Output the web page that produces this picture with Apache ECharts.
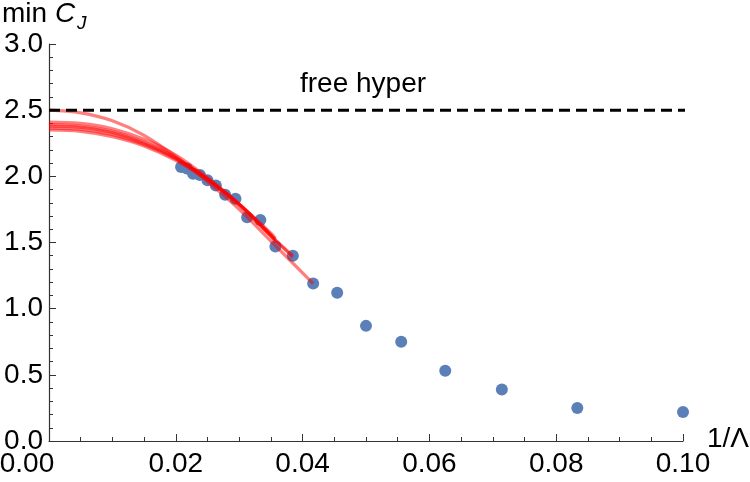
<!DOCTYPE html>
<html>
<head>
<meta charset="utf-8">
<script src="https://cdn.jsdelivr.net/npm/echarts@6/dist/echarts.min.js"></script>
<style>
html,body{margin:0;padding:0;background:#fff;}
#chart{width:750px;height:482px;}
</style>
</head>
<body>
<div id="chart"></div>
<script>
// ---- data ----
var lambdaVals = [48, 46, 44, 42, 40, 38, 36, 34, 32, 30, 28, 26, 24, 22, 20, 18, 16, 14, 12, 10];
var minCJ = [2.07, 2.06, 2.02, 2.01, 1.97, 1.93, 1.86, 1.83, 1.69, 1.67, 1.47, 1.40, 1.19, 1.12, 0.87, 0.75, 0.53, 0.39, 0.25, 0.22];

var freeHyper = 2.5;
var freeHyperEnd = 0.101;

// fit curves (x = 1/Lambda, y = min C_J)
var fitAx = [0, 0.005, 0.01, 0.015, 0.02, 0.025, 0.03, 0.035, 0.04167];
var fitAy = [2.50, 2.48, 2.42, 2.31, 2.15, 1.96, 1.75, 1.51, 1.19];
var fitBx = [0, 0.005, 0.01, 0.015, 0.02, 0.025, 0.03, 0.035, 0.03846];
var fitB1y = [2.41, 2.40, 2.36, 2.28, 2.16, 1.99, 1.79, 1.55, 1.39];
var fitB5y = [2.39, 2.38, 2.34, 2.26, 2.14, 1.98, 1.78, 1.55, 1.40];
var fitCx = [0, 0.005, 0.01, 0.015, 0.02, 0.025, 0.03, 0.035, 0.0357];
var fitB2y = [2.38, 2.37, 2.33, 2.25, 2.14, 1.98, 1.79, 1.55, 1.50];
var fitB3y = [2.365, 2.355, 2.315, 2.24, 2.13, 1.98, 1.79, 1.56, 1.52];
var fitB4y = [2.35, 2.34, 2.30, 2.23, 2.12, 1.97, 1.79, 1.57, 1.53];

var xTicks = [0, 0.02, 0.04, 0.06, 0.08, 0.10];
var yTicks = [0, 0.5, 1.0, 1.5, 2.0, 2.5, 3.0];

function pairs(xs, ys) { return xs.map(function (x, i) { return [x, ys[i]]; }); }

var points = lambdaVals.map(function (L, i) { return [1 / L, minCJ[i]]; });

var FONT = 'Liberation Sans, Arial, sans-serif';

function fitSeries(xs, ys) {
  return {
    type: 'line', data: pairs(xs, ys), smooth: 0.35, showSymbol: false, silent: true,
    lineStyle: { color: '#ff0000', width: 3.2, opacity: 0.5 }, z: 3
  };
}

var chart = echarts.init(document.getElementById('chart'));
chart.setOption({
  animation: false,
  backgroundColor: '#ffffff',
  grid: { left: 49, right: 67, top: 44, bottom: 41, containLabel: false, outerBoundsMode: 'none' },
  xAxis: {
    type: 'value', min: xTicks[0], max: xTicks[xTicks.length - 1], interval: 0.02,
    axisLine: { lineStyle: { color: '#333', width: 1.2 } },
    axisTick: { inside: true, length: 7, lineStyle: { color: '#333' } },
    minorTick: { show: true, splitNumber: 4, length: 4, lineStyle: { color: '#333' } },
    splitLine: { show: false },
    axisLabel: {
      color: '#000', fontFamily: FONT, fontSize: 28, margin: 9,
      formatter: function (v) { return v === xTicks[0] ? '{m|' + v.toFixed(2) + '}' : v.toFixed(2); },
      rich: { m: { color: '#000', fontFamily: FONT, fontSize: 28, padding: [0, 44, 0, 0] } }
    }
  },
  yAxis: {
    type: 'value', min: yTicks[0], max: yTicks[yTicks.length - 1], interval: 0.5,
    axisLine: { show: true, lineStyle: { color: '#333', width: 1.2 } },
    axisTick: { show: true, inside: true, length: 7, lineStyle: { color: '#333' } },
    minorTick: { show: true, splitNumber: 5, length: 4, lineStyle: { color: '#333' } },
    splitLine: { show: false },
    axisLabel: {
      color: '#000', fontFamily: FONT, fontSize: 28, margin: 6,
      formatter: function (v) { return v.toFixed(1); }
    }
  },
  graphic: [
    {
      type: 'text', left: 2, top: 0, z: 10,
      style: {
        text: '{n|min }{i|C}',
        rich: {
          n: { fontFamily: FONT, fontSize: 28, fill: '#000' },
          i: { fontFamily: FONT, fontSize: 28, fontStyle: 'italic', fill: '#000' }
        }
      }
    },
    {
      type: 'text', left: 77, top: 14, z: 10,
      style: { text: 'J', fontFamily: FONT, fontSize: 19, fontStyle: 'italic', fill: '#000' }
    },
    {
      type: 'text', left: 707, top: 425, z: 10,
      style: { text: '1/Λ', fontFamily: FONT, fontSize: 28, fill: '#000' }
    },
    {
      type: 'text', left: 300, top: 70, z: 10,
      style: { text: 'free hyper', fontFamily: FONT, fontSize: 28, fill: '#000' }
    }
  ],
  series: [
    {
      type: 'scatter', data: points, symbol: 'circle', symbolSize: 12,
      itemStyle: { color: '#5b7fb7', opacity: 1 }, z: 2, silent: true
    },
    fitSeries(fitBx, fitB1y),
    fitSeries(fitBx, fitB5y),
    fitSeries(fitCx, fitB2y),
    fitSeries(fitCx, fitB3y),
    fitSeries(fitCx, fitB4y),
    fitSeries(fitAx, fitAy),
    {
      type: 'line', data: [[xTicks[0], freeHyper], [freeHyperEnd, freeHyper]],
      showSymbol: false, silent: true, clip: false,
      lineStyle: { color: '#000', width: 3, type: [11, 6] }, z: 4
    }
  ]
});
</script>
</body>
</html>
